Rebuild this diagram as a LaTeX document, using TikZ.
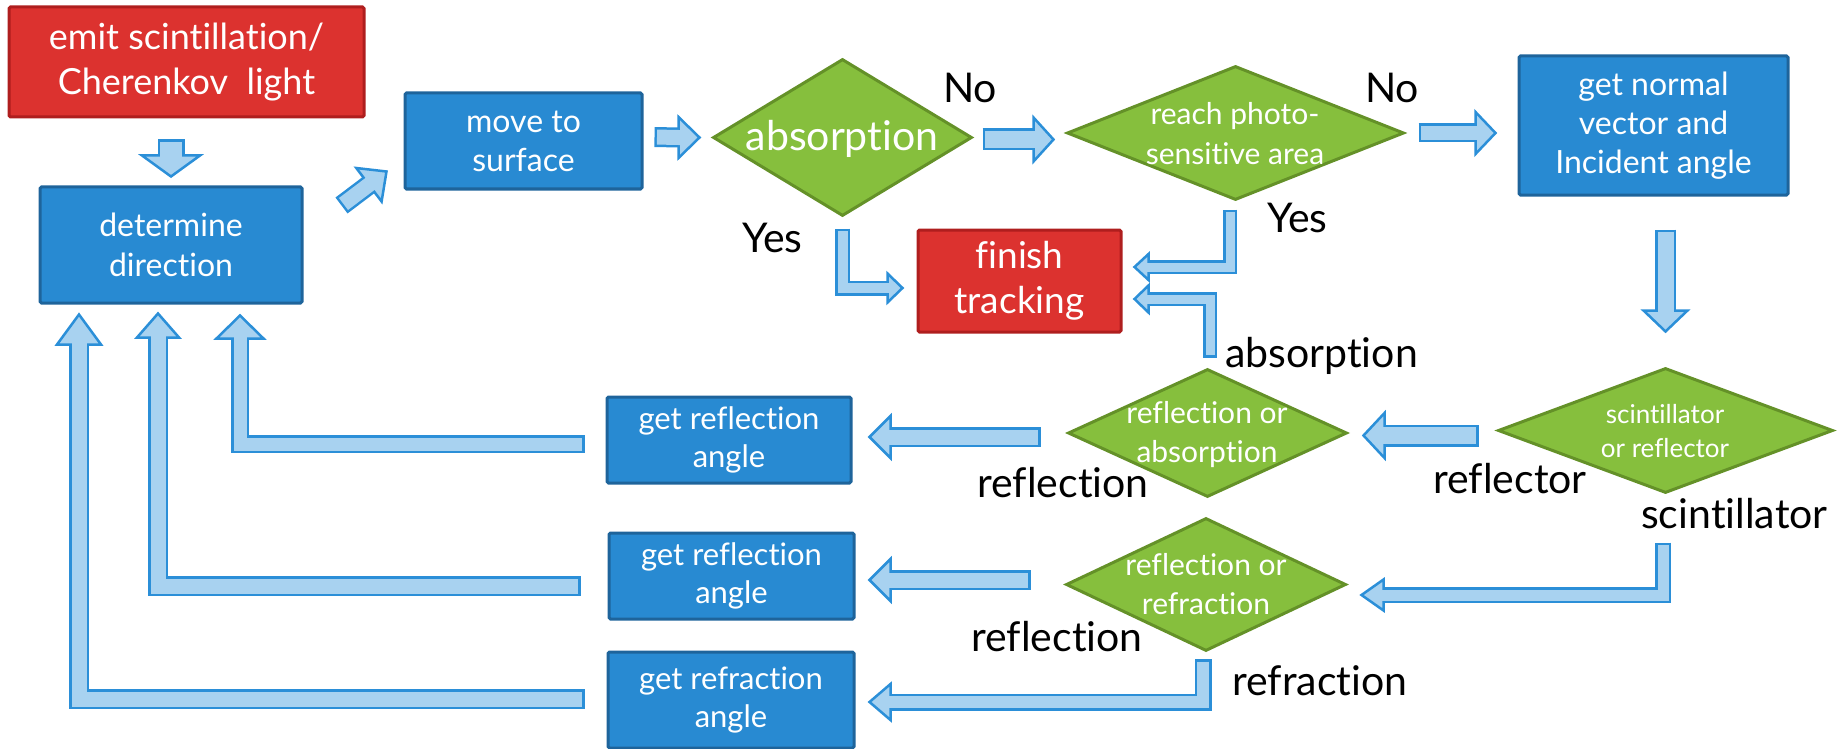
\documentclass[tikz,border=0pt]{standalone}
\usepackage{fontspec}
\setmainfont{Lato}[Ligatures=NoCommon]
\usetikzlibrary{shapes.geometric,calc}
\definecolor{redfill}{RGB}{220,50,47}
\definecolor{redline}{RGB}{175,30,30}
\definecolor{bluefill}{RGB}{40,138,210}
\definecolor{blueline}{RGB}{30,100,155}
\definecolor{greenfill}{RGB}{134,191,61}
\definecolor{greenline}{RGB}{100,145,40}
\definecolor{arrowline}{RGB}{43,143,216}
\definecolor{arrowfill}{RGB}{168,210,240}
\newcommand\blockarrow[6]{%
  \draw[line width=#1, draw=arrowline, line join=miter] #4;
  \filldraw[fill=arrowfill, draw=arrowline, line width=2.5pt, line join=miter]
    ($(#5)!#3!90:(#6)$) -- (#6) -- ($(#5)!#3!-90:(#6)$) -- cycle;
  \draw[line width=#2, draw=arrowfill, line join=miter, shorten <=2.5pt, shorten >=-3pt] #4;
}
\tikzset{
  box/.style={draw=blueline, fill=bluefill, line width=3pt, rounded corners=1.5pt,
    text=white, align=center, inner sep=0pt},
  redbox/.style={box, draw=redline, fill=redfill},
  dia/.style={shape=diamond, draw=greenline, fill=greenfill, line width=3pt, inner sep=0pt},
  wt/.style={text=white, align=center, inner sep=0pt},
  lbl/.style={text=black, inner sep=0pt, anchor=base west, font=\fontsize{41}{48}\selectfont},
}
\begin{document}
\begin{tikzpicture}[x=1pt,y=-1pt]
\useasboundingbox (0,0) rectangle (1840,749);
% ---- nodes
\node[redbox, minimum width=355pt, minimum height=110pt, font=\fontsize{36}{45}\selectfont]
  (emit) at (186.5,62) {emit scintillation/\\Cherenkov\ \ light};
\node[box, minimum width=262pt, minimum height=116pt, font=\fontsize{32}{40}\selectfont]
  (det) at (171,245) {determine\\direction};
\node[box, minimum width=237pt, minimum height=96pt, font=\fontsize{32}{39}\selectfont]
  (move) at (523.5,141) {move to\\surface};
\node[dia, minimum width=259pt, minimum height=157pt] (abs) at (842.5,137.5) {};
\node[wt, font=\fontsize{41}{48}\selectfont] (abst) at (842,139) {absorption};
\node[dia, minimum width=337pt, minimum height=134pt] (reach) at (1235.5,133) {};
\node[wt, font=\fontsize{30}{40}\selectfont] (reacht) at (1235,134) {reach photo-\\sensitive area};
\node[box, minimum width=269pt, minimum height=139pt, font=\fontsize{32}{39}\selectfont]
  (normal) at (1653.5,125.5) {get normal\\vector and\\Incident angle};
\node[redbox, minimum width=203pt, minimum height=102pt, font=\fontsize{37}{45}\selectfont]
  (fin) at (1019.5,281) {finish\\tracking};
\node[dia, minimum width=279pt, minimum height=128pt] (rabs) at (1207.5,433) {};
\node[wt, font=\fontsize{30}{39}\selectfont] (rabst) at (1207,435) {reflection or\\absorption};
\node[dia, minimum width=335pt, minimum height=125pt] (scint) at (1665.5,430.5) {};
\node[wt, font=\fontsize{26}{34}\selectfont] (scintt) at (1665,431) {scintillator\\or reflector};
\node[dia, minimum width=280pt, minimum height=133pt] (rrefr) at (1206,584.5) {};
\node[wt, font=\fontsize{30}{39}\selectfont] (rrefrt) at (1206,584) {reflection or\\refraction};
\node[box, minimum width=244pt, minimum height=86pt, font=\fontsize{31}{38}\selectfont]
  (box1) at (729,440) {get reflection\\angle};
\node[box, minimum width=245pt, minimum height=86pt, font=\fontsize{31}{38}\selectfont]
  (box2) at (731.5,576) {get reflection\\angle};
\node[box, minimum width=246pt, minimum height=96pt, font=\fontsize{31}{38}\selectfont]
  (box3) at (731,700) {get refraction\\angle};
% ---- labels
\node[lbl] (no1) at (943,103) {No};
\node[lbl] (no2) at (1365,103) {No};
\node[lbl] (yes1) at (742,252) {Yes};
\node[lbl] (yes2) at (1267,233) {Yes};
\node[lbl] (labs) at (1225,367) {absorption};
\node[lbl] (lrefl) at (1433,493) {reflector};
\node[lbl] (lscint) at (1641,528) {scintillator};
\node[lbl] (lrfl1) at (977,497) {reflection};
\node[lbl] (lrfl2) at (971,651) {reflection};
\node[lbl] (lrefr) at (1232,695) {refraction};
% ---- connector coordinates
\coordinate (a1s) at ($(emit.south -| det.north)+(0,21)$);
\coordinate (a1t) at ($(det.north)+(0,-9)$);
\coordinate (a1b) at ($(a1t)+(0,-21)$);
\coordinate (a2s) at ($(det.north east)+(38,20)$);
\coordinate (a2t) at ($(move.south west)+(-17,-19)$);
\coordinate (a2b) at ($(a2t)!22pt!(a2s)$);
\coordinate (a3s) at ($(move.east)+(11,-4)$);
\coordinate (a3t) at ($(abs.west)+(-12,0)$);
\coordinate (a3b) at ($(a3t)+(-21,0)$);
\coordinate (a4s) at ($(abs.east)+(9,2)$);
\coordinate (a4t) at ($(a4s -| reach.west)+(-12,0)$);
\coordinate (a4b) at ($(a4t)+(-20,0)$);
\coordinate (a5s) at ($(reach.east)+(13,0)$);
\coordinate (a5t) at ($(a5s -| normal.west)+(-22,0)$);
\coordinate (a5b) at ($(a5t)+(-20,0)$);
\coordinate (a6s) at ($(normal.south -| scint.north)+(0,33)$);
\coordinate (a6t) at ($(scint.north)+(0,-35)$);
\coordinate (a6b) at ($(a6t)+(0,-21)$);
\coordinate (a7s) at ($(abs.south)+(0,11)$);
\coordinate (a7t) at ($(fin.west)+(-14,7)$);
\coordinate (a7b) at ($(a7t)+(-15,0)$);
\coordinate (a8s) at ($(reach.south)+(-5.5,8)$);
\coordinate (a8t) at ($(fin.east)+(12,-14)$);
\coordinate (a8b) at ($(a8t)+(14,0)$);
\coordinate (a9s) at ($(rabs.north)+(2.5,-10)$);
\coordinate (a9t) at ($(fin.east)+(12,18)$);
\coordinate (a9b) at ($(a9t)+(14,0)$);
\coordinate (a10s) at ($(scint.west)+(-18,5)$);
\coordinate (a10t) at ($(a10s -| rabs.east)+(15,0)$);
\coordinate (a10b) at ($(a10t)+(21,0)$);
\coordinate (a11s) at ($(scint.south)+(-2.5,48)$);
\coordinate (a11t) at ($(rrefr.east)+(14,10.5)$);
\coordinate (a11b) at ($(a11t)+(22,0)$);
\coordinate (a12s) at ($(rabs.west)+(-26,4)$);
\coordinate (a12t) at ($(a12s -| box1.east)+(17,0)$);
\coordinate (a12b) at ($(a12t)+(21,0)$);
\coordinate (a13s) at ($(rrefr.west)+(-34,-4.5)$);
\coordinate (a13t) at ($(a13s -| box2.east)+(14,0)$);
\coordinate (a13b) at ($(a13t)+(21,0)$);
\coordinate (a14s) at ($(rrefr.south)+(-3,6.5)$);
\coordinate (a14t) at ($(box3.east)+(14,2)$);
\coordinate (a14b) at ($(a14t)+(21,0)$);
\coordinate (a15s) at ($(box1.west)+(-21,4)$);
\coordinate (a15t) at ($(det.south)+(69,11)$);
\coordinate (a15b) at ($(a15t)+(0,23)$);
\coordinate (a16s) at ($(box2.west)+(-27,10)$);
\coordinate (a16t) at ($(det.south)+(-13,9)$);
\coordinate (a16b) at ($(a16t)+(0,24)$);
\coordinate (a17s) at ($(box3.west)+(-22,-1)$);
\coordinate (a17t) at ($(det.south)+(-92,10)$);
\coordinate (a17b) at ($(a17t)+(0,30)$);
% ---- block arrows
\blockarrow{27pt}{22pt}{29pt}{(a1s) -- (a1b)}{a1b}{a1t}
\blockarrow{20pt}{15pt}{21pt}{(a2s) -- (a2b)}{a2b}{a2t}
\blockarrow{20pt}{15pt}{20.5pt}{(a3s) -- (a3b)}{a3b}{a3t}
\blockarrow{22pt}{17pt}{22pt}{(a4s) -- (a4b)}{a4b}{a4t}
\blockarrow{19pt}{14pt}{21pt}{(a5s) -- (a5b)}{a5b}{a5t}
\blockarrow{21pt}{16pt}{22pt}{(a6s) -- (a6b)}{a6b}{a6t}
\blockarrow{15pt}{10pt}{14.5pt}{(a7s) |- (a7b)}{a7b}{a7t}
\blockarrow{14pt}{9pt}{13pt}{(a8s) |- (a8b)}{a8b}{a8t}
\blockarrow{14pt}{9pt}{13.5pt}{(a9s) |- (a9b)}{a9b}{a9t}
\blockarrow{22pt}{17pt}{22.5pt}{(a10s) -- (a10b)}{a10b}{a10t}
\blockarrow{16pt}{11pt}{15.5pt}{(a11s) |- (a11b)}{a11b}{a11t}
\blockarrow{20pt}{15pt}{21pt}{(a12s) -- (a12b)}{a12b}{a12t}
\blockarrow{20pt}{15pt}{21pt}{(a13s) -- (a13b)}{a13b}{a13t}
\blockarrow{17pt}{12pt}{18pt}{(a14s) |- (a14b)}{a14b}{a14t}
\blockarrow{18pt}{13pt}{23.5pt}{(a15s) -| (a15b)}{a15b}{a15t}
\blockarrow{20pt}{15pt}{21pt}{(a16s) -| (a16b)}{a16b}{a16t}
\blockarrow{20pt}{15pt}{22pt}{(a17s) -| (a17b)}{a17b}{a17t}
\end{tikzpicture}
\end{document}
